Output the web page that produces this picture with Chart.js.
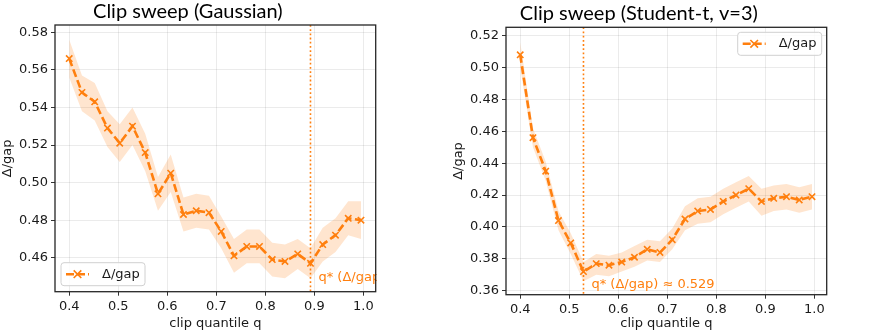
<!DOCTYPE html>
<html>
<head>
<meta charset="utf-8">
<script src="https://cdn.jsdelivr.net/npm/chart.js@4.4.0/dist/chart.umd.min.js"></script>
<style>
  body { margin: 0; background: #fff; }
  .wrap { position: absolute; top: 0; height: 332px; }
</style>
</head>
<body>
<div class="wrap" style="left:0;width:440px"><canvas id="gauss" width="440" height="332"></canvas></div>
<div class="wrap" style="left:440px;width:437px"><canvas id="student" width="437" height="332"></canvas></div>
<script>
// clip quantiles swept
const qValues = [0.400, 0.426, 0.452, 0.478, 0.503, 0.529, 0.555, 0.581, 0.607, 0.633, 0.659, 0.685,
                 0.710, 0.736, 0.762, 0.788, 0.814, 0.840, 0.866, 0.892, 0.917, 0.943, 0.969, 0.995];

// Gaussian: mean and band
const gaussMean = [0.566, 0.548, 0.543, 0.529, 0.521, 0.530, 0.516, 0.494, 0.505, 0.483, 0.485, 0.484,
                   0.474, 0.461, 0.466, 0.466, 0.459, 0.458, 0.462, 0.457, 0.467, 0.472, 0.481, 0.480];
const gaussHigh = [0.576, 0.557, 0.553, 0.538, 0.531, 0.540, 0.526, 0.503, 0.515, 0.492, 0.494, 0.493,
                   0.482, 0.470, 0.475, 0.475, 0.468, 0.467, 0.470, 0.465, 0.476, 0.481, 0.490, 0.490];
const gaussLow  = [0.556, 0.538, 0.533, 0.519, 0.511, 0.520, 0.506, 0.485, 0.495, 0.474, 0.476, 0.475,
                   0.465, 0.452, 0.457, 0.457, 0.450, 0.449, 0.454, 0.449, 0.458, 0.463, 0.472, 0.470];
const gaussQStar = 0.892;

// Student-t, v=3
const stMean = [0.508, 0.456, 0.435, 0.404, 0.390, 0.372, 0.377, 0.376, 0.378, 0.381, 0.386, 0.384,
                0.392, 0.405, 0.410, 0.411, 0.416, 0.420, 0.424, 0.416, 0.418, 0.419, 0.417, 0.419];
const stHigh = [0.516, 0.462, 0.441, 0.410, 0.396, 0.378, 0.383, 0.382, 0.384, 0.388, 0.392, 0.391,
                0.399, 0.413, 0.418, 0.419, 0.424, 0.428, 0.432, 0.424, 0.426, 0.427, 0.425, 0.427];
const stLow  = [0.500, 0.450, 0.429, 0.398, 0.383, 0.366, 0.370, 0.369, 0.372, 0.375, 0.379, 0.378,
                0.386, 0.398, 0.402, 0.403, 0.408, 0.412, 0.416, 0.407, 0.410, 0.411, 0.409, 0.411];
const stQStar = 0.529;

// tick labels
const xTicks = [0.4, 0.5, 0.6, 0.7, 0.8, 0.9, 1.0];
const gaussYTicks = [0.46, 0.48, 0.50, 0.52, 0.54, 0.56, 0.58];
const stYTicks = [0.36, 0.38, 0.40, 0.42, 0.44, 0.46, 0.48, 0.50, 0.52];

const ORANGE = '#ff7f0e';
const TICKFONT = { family: '"DejaVu Sans"', size: 13 };

function pts(ys) {
  return qValues.map((q, i) => ({ x: q, y: ys[i] }));
}

// axes box + q* marker + legend
const decor = {
  id: 'decor',
  afterDatasetsDraw(chart, args, o) {
    const ctx = chart.ctx, a = chart.chartArea;
    const xs = chart.scales.x, ys = chart.scales.y;
    const px = xs.getPixelForValue(o.qStar);
    ctx.save();
    ctx.strokeStyle = ORANGE;
    ctx.lineWidth = 1.6;
    ctx.setLineDash([1.8, 2.4]);
    ctx.beginPath();
    ctx.moveTo(px, a.top);
    ctx.lineTo(px, a.bottom);
    ctx.stroke();
    ctx.restore();

    ctx.save();
    ctx.beginPath();
    ctx.rect(0, 0, a.right + 1, chart.height);
    ctx.clip();
    ctx.fillStyle = ORANGE;
    ctx.font = '13px "DejaVu Sans"';
    ctx.textBaseline = 'middle';
    ctx.fillText(o.label, px + 8, ys.getPixelForValue(o.labelY));
    ctx.restore();
  },
  afterDraw(chart, args, o) {
    const ctx = chart.ctx, a = chart.chartArea;
    ctx.save();
    ctx.strokeStyle = '#262626';
    ctx.lineWidth = 1.3;
    ctx.strokeRect(a.left, a.top, a.right - a.left, a.bottom - a.top);

    const w = 84, h = 23;
    const bx = o.legendPos === 'ul' || o.legendPos === 'll' ? a.left + 6 : a.right - 5 - w;
    const by = o.legendPos === 'll' || o.legendPos === 'lr' ? a.bottom - 6 - h : a.top + 5;
    ctx.fillStyle = 'rgba(255,255,255,0.85)';
    ctx.strokeStyle = '#d0d0d0';
    ctx.lineWidth = 1;
    ctx.beginPath();
    ctx.roundRect(bx, by, w, h, 3);
    ctx.fill();
    ctx.stroke();
    const cy = by + h / 2;
    ctx.strokeStyle = ORANGE;
    ctx.lineWidth = 2.5;
    ctx.setLineDash([8, 3]);
    ctx.beginPath();
    ctx.moveTo(bx + 5, cy);
    ctx.lineTo(bx + 28, cy);
    ctx.stroke();
    ctx.setLineDash([]);
    ctx.lineWidth = 1.6;
    const mx = bx + 16.5, r = 3.8;
    ctx.beginPath();
    ctx.moveTo(mx - r, cy - r); ctx.lineTo(mx + r, cy + r);
    ctx.moveTo(mx - r, cy + r); ctx.lineTo(mx + r, cy - r);
    ctx.stroke();
    ctx.fillStyle = '#1a1a1a';
    ctx.font = '13px "DejaVu Sans"';
    ctx.textBaseline = 'middle';
    ctx.fillText('Δ/gap', bx + 41, cy);
    ctx.restore();
  }
};

function makeChart(id, o) {
  return new Chart(document.getElementById(id), {
    type: 'line',
    data: {
      datasets: [
        {
          data: pts(o.mean), borderColor: ORANGE, borderWidth: 2.6, borderDash: [8, 3.5],
          pointStyle: 'crossRot', pointRadius: 4.5, pointBorderWidth: 1.6,
          pointBorderColor: ORANGE, tension: 0, fill: false
        },
        { data: pts(o.low), borderWidth: 0, pointRadius: 0, fill: false },
        { data: pts(o.high), borderWidth: 0, pointRadius: 0, fill: '-1', backgroundColor: 'rgba(255,127,14,0.2)' }
      ]
    },
    options: {
      responsive: false,
      animation: false,
      devicePixelRatio: 1,
      layout: { padding: { left: o.padLeft, right: o.padRight, top: 0, bottom: 0 } },
      plugins: {
        legend: { display: false },
        tooltip: { enabled: false },
        title: {
          display: true, text: o.title, color: '#000',
          font: { family: 'Lato', size: 20, weight: 'normal' },
          padding: { top: o.titleTop, bottom: o.titleBottom }
        },
        decor: { qStar: o.qStar, label: 'q* (Δ/gap) ≈ ' + o.qStar.toFixed(3), labelY: o.labelY, legendPos: o.legendPos }
      },
      scales: {
        x: {
          type: 'linear', min: 0.371, max: 1.025,
          afterBuildTicks: s => { s.ticks = xTicks.map(v => ({ value: v })); },
          afterFit: s => { s.height = o.xHeight; },
          ticks: { font: TICKFONT, color: '#1a1a1a', padding: 3, callback: v => v.toFixed(1) },
          grid: { color: 'rgba(0,0,0,0.08)', tickColor: '#333', tickLength: 4 },
          border: { display: false },
          title: { display: true, text: 'clip quantile q', color: '#1a1a1a', font: TICKFONT, padding: { top: 0, bottom: 1 } }
        },
        y: {
          min: o.yMin, max: o.yMax,
          afterBuildTicks: s => { s.ticks = o.yTicks.map(v => ({ value: v })); },
          afterFit: s => { s.width = o.yWidth; },
          ticks: { font: TICKFONT, color: '#1a1a1a', padding: 3, callback: v => v.toFixed(2) },
          grid: { color: 'rgba(0,0,0,0.08)', tickColor: '#333', tickLength: 4 },
          border: { display: false },
          title: { display: true, text: 'Δ/gap', color: '#1a1a1a', font: TICKFONT, padding: { top: 0, bottom: 0 } }
        }
      }
    },
    plugins: [decor]
  });
}

makeChart('gauss', {
  title: 'Clip sweep (Gaussian)', mean: gaussMean, low: gaussLow, high: gaussHigh,
  qStar: gaussQStar, labelY: 0.4492, legendPos: 'll',
  yMin: 0.4419, yMax: 0.5839, yTicks: gaussYTicks,
  padLeft: 0, yWidth: 55, padRight: 64.3, xHeight: 40.3, titleTop: 0, titleBottom: 1
});

makeChart('student', {
  title: 'Clip sweep (Student-t, v=3)', mean: stMean, low: stLow, high: stHigh,
  qStar: stQStar, labelY: 0.3636, legendPos: 'ur',
  yMin: 0.3575, yMax: 0.5253, yTicks: stYTicks,
  padLeft: 11, yWidth: 55, padRight: 50.3, xHeight: 37.3, titleTop: 1.5, titleBottom: 1.8
});
</script>
</body>
</html>
